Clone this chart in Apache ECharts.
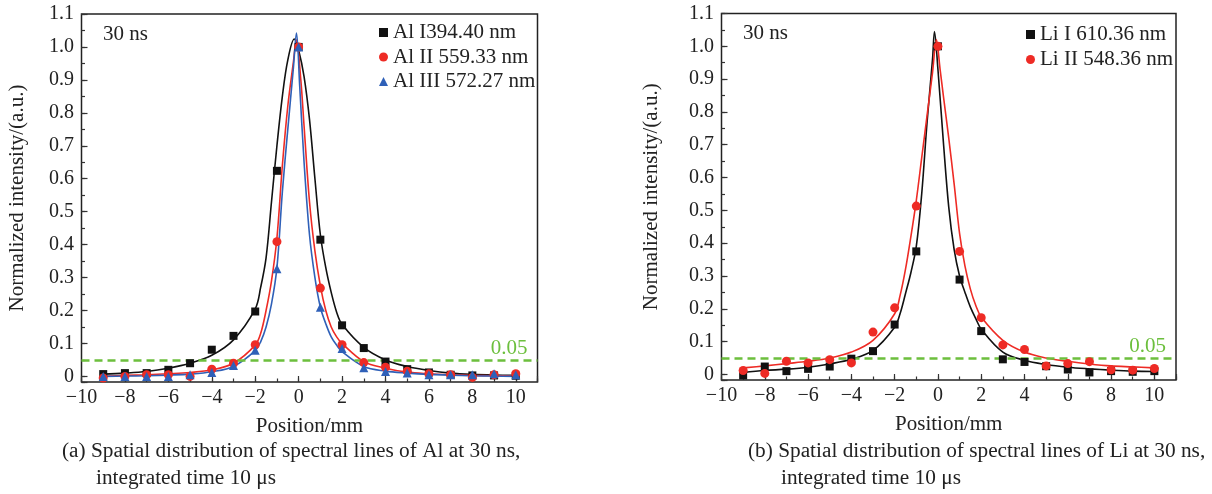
<!DOCTYPE html>
<html><head><meta charset="utf-8">
<script src="https://cdn.jsdelivr.net/npm/echarts@6/dist/echarts.min.js"></script>
<style>html,body{margin:0;padding:0;background:#fff}#c{width:1212px;height:494px}</style>
</head><body><div id="c"></div>
<script>
// ---------- data ----------
const positions = [-9,-8,-7,-6,-5,-4,-3,-2,-1,0,1,2,3,4,5,6,7,8,9,10];
const threshold = 0.05;

// (a) Al
const alNames = ['Al I394.40 nm','Al II 559.33 nm','Al III 572.27 nm'];
const alI   = [0.007,0.01,0.01,0.02,0.04,0.081,0.123,0.197,0.624,1.0,0.415,0.155,0.086,0.045,0.022,0.012,0.005,0.003,0.003,0.002];
const alII  = [-0.005,0.0,0.005,0.005,0.0,0.022,0.04,0.096,0.409,1.0,0.268,0.096,0.042,0.028,0.016,0.008,0.005,-0.003,0.005,0.008];
const alIII = [0.0,0.0,0.0,0.0,0.005,0.012,0.033,0.079,0.327,1.0,0.21,0.085,0.026,0.015,0.01,0.005,0.005,0.005,0.008,0.005];

const alIFitX = [-9,-8,-7,-6,-5,-4,-3,-2,-1.75,-1.5,-1.25,-1,-0.75,-0.5,-0.2,0,0.25,0.5,0.75,1,1.25,1.5,1.75,2,3,4,5,6,7,8,9,10];
const alIFitY = [0.007,0.01,0.015,0.025,0.04,0.064,0.111,0.205,0.27,0.36,0.53,0.7,0.85,0.96,1.024,0.99,0.91,0.78,0.6,0.43,0.33,0.255,0.195,0.158,0.088,0.05,0.03,0.018,0.01,0.006,0.004,0.003];
const alIIFitX = [-9,-8,-7,-6,-5,-4,-3,-2,-1.75,-1.5,-1.25,-1,-0.75,-0.5,-0.25,-0.1,0.1,0.25,0.5,0.75,1,1.25,1.5,1.75,2,3,4,5,6,7,8,9,10];
const alIIFitY = [0.0,0.003,0.005,0.008,0.012,0.02,0.04,0.095,0.13,0.2,0.29,0.42,0.64,0.82,0.95,1.022,0.9,0.76,0.53,0.38,0.275,0.2,0.15,0.12,0.1,0.045,0.025,0.013,0.008,0.005,0.003,0.002,0.001];
const alIIIFitX = [-9,-8,-7,-6,-5,-4,-3,-2,-1.75,-1.5,-1.25,-1,-0.75,-0.5,-0.25,-0.1,0.05,0.25,0.5,0.75,1,1.25,1.5,1.75,2,3,4,5,6,7,8,9,10];
const alIIIFitY = [0.0,0.001,0.002,0.004,0.007,0.014,0.03,0.078,0.105,0.15,0.22,0.33,0.56,0.75,0.93,1.042,0.88,0.65,0.43,0.3,0.21,0.16,0.12,0.095,0.075,0.03,0.016,0.01,0.006,0.004,0.002,0.001,0.0];

// (b) Li
const liNames = ['Li I 610.36 nm','Li II 548.36 nm'];
const liI  = [-0.003,0.024,0.01,0.017,0.024,0.048,0.071,0.152,0.375,1.0,0.289,0.132,0.046,0.038,0.025,0.015,0.006,0.01,0.008,0.01];
const liII = [0.012,0.003,0.04,0.035,0.045,0.035,0.129,0.203,0.513,1.0,0.375,0.173,0.09,0.076,0.026,0.033,0.039,0.014,0.013,0.018];

const liIFitX = [-9,-8,-7,-6,-5,-4,-3,-2,-1.75,-1.5,-1.25,-1,-0.75,-0.5,-0.25,-0.16,0,0.25,0.5,0.75,1,1.25,1.5,1.75,2,3,4,5,6,7,8,9,10];
const liIFitY = [0.006,0.012,0.016,0.022,0.032,0.046,0.073,0.144,0.185,0.246,0.31,0.39,0.55,0.77,0.96,1.045,0.93,0.71,0.51,0.38,0.3,0.25,0.205,0.17,0.138,0.068,0.043,0.03,0.022,0.017,0.013,0.01,0.009];
const liIIFitX = [-9,-8,-7,-6,-5,-4,-3,-2,-1.75,-1.5,-1.25,-1,-0.75,-0.5,-0.25,-0.07,0.1,0.25,0.5,0.75,1,1.25,1.5,1.75,2,3,4,5,6,7,8,9,10];
const liIIFitY = [0.02,0.026,0.033,0.04,0.05,0.068,0.104,0.185,0.24,0.32,0.42,0.53,0.66,0.79,0.92,1.02,0.93,0.85,0.72,0.58,0.43,0.33,0.26,0.21,0.175,0.104,0.068,0.05,0.04,0.032,0.026,0.023,0.02];

// ---------- style ----------
const FONT = '"Liberation Serif","Times New Roman",serif';
const TXT = '#222';
const BLACK = '#111', RED = '#ee2b25', BLUE = '#2f60b8', GREEN = '#6cbf3d';

const zip = (xs, ys) => xs.map((x, i) => [x, ys[i]]);
const fmtX = v => (v > 10 ? '' : (v < 0 ? '\u2212' + Math.abs(v) : String(v)));
const fmtY = v => (v < -1e-9 ? '' : (Math.abs(v) < 1e-9 ? '0' : v.toFixed(1)));

const grids = [
  {left: 81.5, top: 14, width: 456, height: 368},
  {left: 721.5, top: 13.5, width: 454.5, height: 366.5}
];
const yNameGaps = [54, 60];
const noLine = {show: false, onZero: false};

const xAxis = [], yAxis = [];
grids.forEach((g, gi) => {
  xAxis.push({
    gridIndex: gi, type: 'value', min: -10, max: 11, interval: 2, position: 'bottom',
    axisLine: noLine, splitLine: {show: false},
    axisTick: {inside: true, length: 6, lineStyle: {color: '#333', width: 1.2}},
    axisLabel: {margin: 6, fontSize: 20, fontFamily: FONT, color: TXT, formatter: fmtX},
    name: 'Position/mm', nameLocation: 'middle', nameGap: 34,
    nameTextStyle: {fontSize: 21, fontFamily: FONT, color: TXT}
  });
  xAxis.push({
    gridIndex: gi, type: 'value', min: -10, max: 11, interval: 1, position: 'bottom',
    axisLine: noLine, splitLine: {show: false}, axisLabel: {show: false},
    axisTick: {inside: true, length: 3.5, lineStyle: {color: '#333', width: 1.2}}
  });
  yAxis.push({
    gridIndex: gi, type: 'value', min: -0.017, max: 1.1, splitNumber: 11, position: 'left',
    axisLine: noLine, splitLine: {show: false},
    axisTick: {inside: true, length: 6, lineStyle: {color: '#333', width: 1.2}},
    axisLabel: {margin: 7.5, fontSize: 20, fontFamily: FONT, color: TXT, formatter: fmtY},
    name: 'Normalized intensity/(a.u.)', nameLocation: 'middle', nameGap: yNameGaps[gi],
    nameTextStyle: {fontSize: 21, fontFamily: FONT, color: TXT}
  });
  yAxis.push({
    gridIndex: gi, type: 'value', min: -0.017, max: 1.1, splitNumber: 22, position: 'left',
    axisLine: noLine, splitLine: {show: false}, axisLabel: {show: false},
    axisTick: {inside: true, length: 3.5, lineStyle: {color: '#333', width: 1.2}}
  });
});

function scatter(name, ys, gi, symbol, size, color) {
  return {type: 'scatter', name, data: zip(positions, ys), xAxisIndex: gi * 2, yAxisIndex: gi * 2,
    symbol, symbolSize: size, itemStyle: {color, opacity: 1}, z: 5, silent: true};
}
function fit(name, xs, ys, gi, color, withMark) {
  const s = {type: 'line', name, data: zip(xs, ys), xAxisIndex: gi * 2, yAxisIndex: gi * 2,
    showSymbol: false, symbol: 'none', smooth: 0.35, lineStyle: {color, width: 1.6}, z: 3, silent: true};
  if (withMark) {
    s.markLine = {
      silent: true, symbol: 'none',
      data: [{yAxis: threshold}],
      lineStyle: {color: GREEN, type: [8, 5], width: 2.5},
      label: {show: true, position: 'insideEndTop', formatter: String(threshold), color: GREEN,
              fontSize: 21, fontFamily: FONT, distance: [10, 1]}
    };
  }
  return s;
}

const series = [
  fit('Al I fit', alIFitX, alIFitY, 0, BLACK, true),
  fit('Al II fit', alIIFitX, alIIFitY, 0, RED, false),
  fit('Al III fit', alIIIFitX, alIIIFitY, 0, BLUE, false),
  scatter(alNames[0], alI, 0, 'rect', 8, BLACK),
  scatter(alNames[1], alII, 0, 'circle', 9, RED),
  scatter(alNames[2], alIII, 0, 'triangle', 9, BLUE),
  fit('Li I fit', liIFitX, liIFitY, 1, BLACK, true),
  fit('Li II fit', liIIFitX, liIIFitY, 1, RED, false),
  scatter(liNames[0], liI, 1, 'rect', 8, BLACK),
  scatter(liNames[1], liII, 1, 'circle', 9, RED)
];

const legendText = {fontSize: 21, fontFamily: FONT, color: TXT};
const capFont = '21.3px ' + FONT;
const option = {
  animation: false,
  backgroundColor: '#fff',
  grid: grids.map(g => Object.assign({show: true, borderColor: '#222', borderWidth: 1.5, backgroundColor: 'transparent'}, g)),
  xAxis, yAxis, series,
  legend: [
    {data: alNames, orient: 'vertical', left: 379, top: 22, itemWidth: 9, itemHeight: 9, itemGap: 3.5,
     textStyle: legendText, selectedMode: false, padding: 0},
    {data: liNames, orient: 'vertical', left: 1026, top: 24, itemWidth: 9, itemHeight: 9, itemGap: 4,
     textStyle: legendText, selectedMode: false, padding: 0}
  ],
  graphic: [
    {type: 'text', x: 103, y: 34, style: {text: '30 ns', font: '21px ' + FONT, fill: TXT, verticalAlign: 'middle'}},
    {type: 'text', x: 743, y: 33, style: {text: '30 ns', font: '21px ' + FONT, fill: TXT, verticalAlign: 'middle'}},
    {type: 'text', x: 62, y: 451, style: {text: '(a) Spatial distribution of spectral lines of Al at 30 ns,', font: capFont, fill: TXT, verticalAlign: 'middle'}},
    {type: 'text', x: 96, y: 478, style: {text: 'integrated time 10 \u03bcs', font: capFont, fill: TXT, verticalAlign: 'middle'}},
    {type: 'text', x: 748, y: 451, style: {text: '(b) Spatial distribution of spectral lines of Li at 30 ns,', font: capFont, fill: TXT, verticalAlign: 'middle'}},
    {type: 'text', x: 781, y: 478, style: {text: 'integrated time 10 \u03bcs', font: capFont, fill: TXT, verticalAlign: 'middle'}}
  ]
};

const chart = echarts.init(document.getElementById('c'), null, {renderer: 'canvas'});
chart.setOption(option);
</script>
</body></html>
